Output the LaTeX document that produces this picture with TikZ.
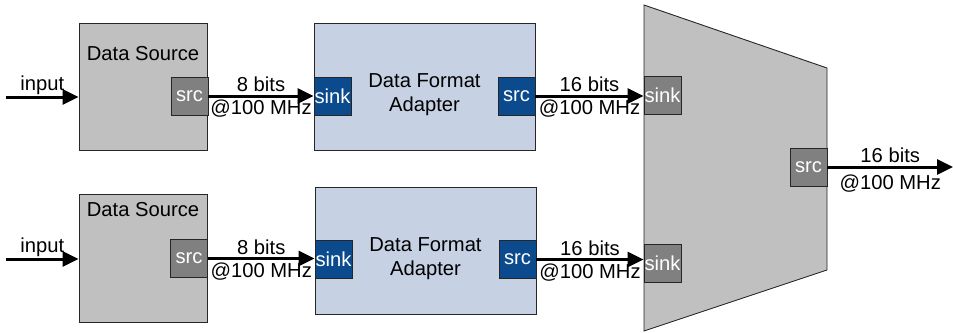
\documentclass[tikz,border=0pt]{standalone}
\usepackage{fontspec}
\setmainfont{Liberation Sans}
\usetikzlibrary{arrows.meta}
\definecolor{blockgray}{HTML}{C0C0C0}
\definecolor{portgray}{HTML}{808080}
\definecolor{adaptfill}{HTML}{C6D1E3}
\definecolor{portblue}{HTML}{0B4A8C}
\begin{document}
\begin{tikzpicture}[x=1pt,y=-1pt,
  font=\fontsize{20.2}{24}\selectfont,
  block/.style={draw=black!85, line width=0.9pt, fill=blockgray, inner sep=0pt},
  adapter/.style={block, fill=adaptfill},
  port/.style={draw=black!85, line width=0.9pt, fill=portgray, text=white,
    inner sep=0pt, minimum width=37pt, minimum height=38pt},
  blueport/.style={port, fill=portblue},
  label/.style={inner sep=0pt, align=center},
  flow/.style={line width=3pt, -{Triangle[length=16pt,width=15pt]}},
  rate/.style={inner sep=2.5pt}
]
\useasboundingbox (0,0) rectangle (953,332);

% ---------- upper channel ----------
\node[block, minimum width=128pt, minimum height=127pt] (ds1) at (143,86.5) {};
\node[label] (ds1txt) at (143,54) {Data Source};
\node[port] (ds1src) at (189.5,96) {src};

\node[adapter, minimum width=221pt, minimum height=127pt] (dfa1) at (424.5,86.5) {};
\node[label] (dfa1txt) at (424.5,95) {Data Format\\Adapter};
\node[blueport] (dfa1sink) at (332.5,96) {sink};
\node[blueport] (dfa1src) at (516.5,96) {src};

% ---------- lower channel ----------
\node[block, minimum width=128pt, minimum height=128pt] (ds2) at (143,258) {};
\node[label] (ds2txt) at (143,210) {Data Source};
\node[port] (ds2src) at (189,258.5) {src};

\node[adapter, minimum width=221pt, minimum height=127pt] (dfa2) at (425.5,250.5) {};
\node[label] (dfa2txt) at (425.5,258.5) {Data Format\\Adapter};
\node[blueport] (dfa2sink) at (333.5,259.5) {sink};
\node[blueport] (dfa2src) at (517.5,259.5) {src};

% ---------- multiplexer ----------
\coordinate (mtl) at (644,5);
\coordinate (mtr) at (827,68);
\coordinate (mbr) at (827,270);
\coordinate (mbl) at (644,331);
\draw[line width=0.9pt, draw=black!85, fill=blockgray]
  (mtl) -- (mtr) -- (mbr) -- (mbl) -- cycle;
\node[port] (mux1sink) at (662.5,95.5) {sink};
\node[port] (mux2sink) at (662.5,263) {sink};
\node[port] (muxsrc) at (808.5,167) {src};

% ---------- data paths ----------
\coordinate (in1) at (6,97);
\coordinate (in2) at (6,259);
\coordinate (out) at (953,167);

\draw[flow] (in1) -- node[above, inner sep=0.5pt] (in1lbl) {input} (in1 -| ds1.west);
\draw[flow] (in2) -- node[above, inner sep=0.5pt] (in2lbl) {input} (in2 -| ds2.west);

\draw[flow] (ds1src.east) -- node[rate, above] (a1) {8 bits}
  node[rate, below] (a1r) {@100 MHz} (dfa1sink.west);
\draw[flow] (ds2src.east) -- node[rate, above] (a2) {8 bits}
  node[rate, below] (a2r) {@100 MHz} (ds2src.east -| dfa2sink.west);

\draw[flow] (dfa1src.east) -- node[rate, above] (b1) {16 bits}
  node[rate, below] (b1r) {@100 MHz} (dfa1src.east -| mux1sink.west);
\draw[flow] (dfa2src.east) -- node[rate, above] (b2) {16 bits}
  node[rate, below] (b2r) {@100 MHz} (dfa2src.east -| mux2sink.west);

\draw[flow] (muxsrc.east) -- node[rate, above] (c1) {16 bits}
  node[below, inner sep=6pt] (c1r) {@100 MHz} (out);
\end{tikzpicture}
\end{document}
